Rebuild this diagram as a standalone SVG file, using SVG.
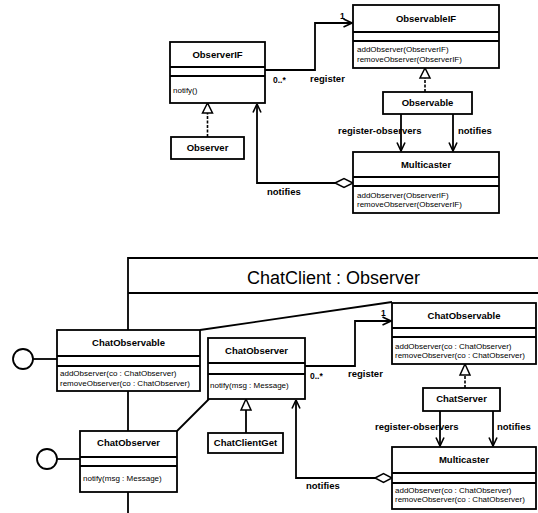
<svg xmlns="http://www.w3.org/2000/svg" width="538" height="513" viewBox="0 0 538 513">
<defs>
<style>
.box{fill:#fff;stroke:#000;stroke-width:1.8}
.sep{stroke:#000;stroke-width:1.8}
.ln{fill:none;stroke:#000;stroke-width:1.8}
.dash{fill:none;stroke:#000;stroke-width:1.6;stroke-dasharray:3,1.5}
.tri{fill:#fff;stroke:#000;stroke-width:1.5}
.nm{font-family:"Liberation Sans",Arial,sans-serif;font-size:9.5px;font-weight:bold;text-anchor:middle}
.mt{font-family:"Liberation Sans",Arial,sans-serif;font-size:8px}
.lb{font-family:"Liberation Sans",Arial,sans-serif;font-size:9.5px;font-weight:bold}
.sm{font-family:"Liberation Sans",Arial,sans-serif;font-size:8.5px;font-weight:bold}
.title{font-family:"Liberation Sans",Arial,sans-serif;font-size:18px;text-anchor:middle}
</style>
<marker id="open" viewBox="0 0 10 10" refX="9.5" refY="5" markerWidth="10" markerHeight="10" markerUnits="userSpaceOnUse" orient="auto">
<path d="M1,1 L9.5,5 L1,9" fill="none" stroke="#000" stroke-width="1.6"/>
</marker>
</defs>

<!-- frame -->
<g id="frame">
<path class="ln" d="M128,513 V258 H538"/>
<line class="sep" x1="128" y1="293" x2="538" y2="293"/>
<text class="title" x="333.5" y="284">ChatClient : Observer</text>
</g>

<!-- connectors -->
<g id="connectors">
<!-- top -->
<path class="ln" d="M265,70 H315 V23 H352" marker-end="url(#open)"/>
<path class="ln" d="M335,183 H257 V104" marker-end="url(#open)"/>
<polygon class="tri" points="335,183 344,178.5 353,183 344,187.5"/>
<path class="ln" d="M401,114 V151" marker-end="url(#open)"/>
<path class="ln" d="M453,114 V151" marker-end="url(#open)"/>
<path class="dash" d="M207.5,137 V113"/>
<polygon class="tri" points="207.5,103 202.5,113 212.5,113"/>
<path class="dash" d="M425,92 V78"/>
<polygon class="tri" points="425,68 420,78 430,78"/>
<!-- bottom -->
<line class="ln" x1="200" y1="330" x2="392" y2="302"/>
<line class="ln" x1="177" y1="431" x2="209" y2="399"/>
<line class="ln" x1="33" y1="359" x2="57" y2="359"/>
<line class="ln" x1="57" y1="459" x2="80" y2="459"/>
<path class="ln" d="M305,366 H355 V321 H391" marker-end="url(#open)"/>
<path class="ln" d="M375,478 H296 V400" marker-end="url(#open)"/>
<polygon class="tri" points="375,478 383.5,473.5 392,478 383.5,482.5"/>
<path class="ln" d="M246,433 V410"/>
<polygon class="tri" points="246,399 241,410 251,410"/>
<path class="dash" d="M465,388 V375"/>
<polygon class="tri" points="465,364 460,375 470,375"/>
<path class="ln" d="M440,411 V446" marker-end="url(#open)"/>
<path class="ln" d="M493,411 V446" marker-end="url(#open)"/>
</g>

<!-- connector labels -->
<g id="labels">
<text class="sm" x="340" y="19">1</text>
<text class="sm" x="273" y="83">0..*</text>
<text class="lb" x="310" y="82">register</text>
<text class="lb" x="267" y="195">notifies</text>
<text class="lb" x="338" y="134">register-observers</text>
<text class="lb" x="458" y="134">notifies</text>
<text class="sm" x="381" y="316">1</text>
<text class="sm" x="310" y="379">0..*</text>
<text class="lb" x="348" y="377">register</text>
<text class="lb" x="306" y="489">notifies</text>
<text class="lb" x="375" y="430">register-observers</text>
<text class="lb" x="497" y="430">notifies</text>
</g>

<!-- top nodes -->
<g id="ObserverIF">
<rect class="box" x="170" y="42" width="95" height="61"/>
<line class="sep" x1="170" y1="67" x2="265" y2="67"/>
<line class="sep" x1="170" y1="76" x2="265" y2="76"/>
<text class="nm" x="217.5" y="58">ObserverIF</text>
<text class="mt" x="173" y="93">notify()</text>
</g>
<g id="Observer">
<rect class="box" x="171" y="137" width="73" height="22"/>
<text class="nm" x="207.5" y="151">Observer</text>
</g>
<g id="ObservableIF">
<rect class="box" x="353" y="5" width="146" height="63"/>
<line class="sep" x1="353" y1="32" x2="499" y2="32"/>
<line class="sep" x1="353" y1="41" x2="499" y2="41"/>
<text class="nm" x="426" y="22">ObservableIF</text>
<text class="mt" x="357" y="52">addObserver(ObserverIF)</text>
<text class="mt" x="357" y="62">removeObserver(ObserverIF)</text>
</g>
<g id="Observable">
<rect class="box" x="383" y="92" width="89" height="22"/>
<text class="nm" x="427.5" y="106">Observable</text>
</g>
<g id="Multicaster">
<rect class="box" x="353" y="152" width="146" height="61"/>
<line class="sep" x1="353" y1="177" x2="499" y2="177"/>
<line class="sep" x1="353" y1="186" x2="499" y2="186"/>
<text class="nm" x="426" y="168">Multicaster</text>
<text class="mt" x="357" y="198">addObserver(ObserverIF)</text>
<text class="mt" x="357" y="207">removeObserver(ObserverIF)</text>
</g>

<!-- bottom nodes -->
<g id="ChatObservableLeft">
<rect class="box" x="57" y="330" width="143" height="61"/>
<line class="sep" x1="57" y1="356" x2="200" y2="356"/>
<line class="sep" x1="57" y1="366" x2="200" y2="366"/>
<text class="nm" x="128.5" y="346">ChatObservable</text>
<text class="mt" x="60" y="376">addObserver(co : ChatObserver)</text>
<text class="mt" x="60" y="386">removeObserver(co : ChatObserver)</text>
</g>
<g id="LollipopTop">
<circle class="box" cx="23" cy="359" r="10"/>
</g>
<g id="ChatObserverLeft">
<rect class="box" x="80" y="431" width="97" height="61"/>
<line class="sep" x1="80" y1="457" x2="177" y2="457"/>
<line class="sep" x1="80" y1="466" x2="177" y2="466"/>
<text class="nm" x="128.5" y="446">ChatObserver</text>
<text class="mt" x="83" y="481">notify(msg : Message)</text>
</g>
<g id="LollipopBottom">
<circle class="box" cx="47" cy="459" r="10"/>
</g>
<g id="ChatObserverMid">
<rect class="box" x="208" y="338" width="97" height="61"/>
<line class="sep" x1="208" y1="363" x2="305" y2="363"/>
<line class="sep" x1="208" y1="374" x2="305" y2="374"/>
<text class="nm" x="256.5" y="354">ChatObserver</text>
<text class="mt" x="210" y="388">notify(msg : Message)</text>
</g>
<g id="ChatClientGet">
<rect class="box" x="208" y="433" width="75" height="20"/>
<text class="nm" x="245.5" y="446">ChatClientGet</text>
</g>
<g id="ChatObservableRight">
<rect class="box" x="392" y="303" width="144" height="61"/>
<line class="sep" x1="392" y1="328" x2="536" y2="328"/>
<line class="sep" x1="392" y1="337" x2="536" y2="337"/>
<text class="nm" x="464" y="319">ChatObservable</text>
<text class="mt" x="395" y="349">addObserver(co : ChatObserver)</text>
<text class="mt" x="395" y="358">removeObserver(co : ChatObserver)</text>
</g>
<g id="ChatServer">
<rect class="box" x="423" y="388" width="77" height="23"/>
<text class="nm" x="461.5" y="402">ChatServer</text>
</g>
<g id="MulticasterBottom">
<rect class="box" x="392" y="447" width="144" height="62"/>
<line class="sep" x1="392" y1="473" x2="536" y2="473"/>
<line class="sep" x1="392" y1="483" x2="536" y2="483"/>
<text class="nm" x="464" y="463">Multicaster</text>
<text class="mt" x="395" y="493">addObserver(co : ChatObserver)</text>
<text class="mt" x="395" y="502">removeObserver(co : ChatObserver)</text>
</g>
</svg>
